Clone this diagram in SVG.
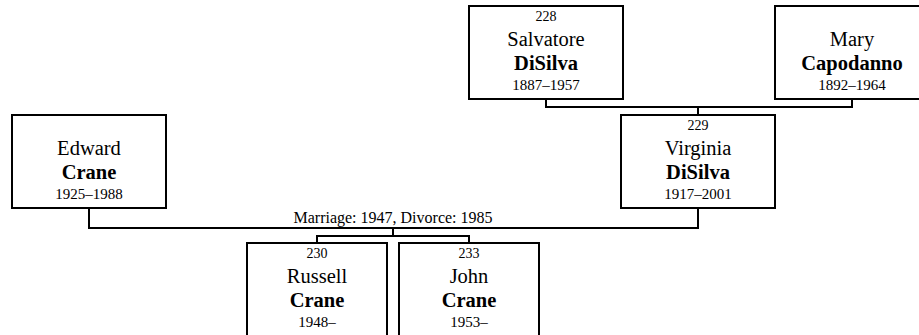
<svg xmlns="http://www.w3.org/2000/svg" width="919" height="335" viewBox="0 0 919 335">
<style>
.box{fill:#fff;stroke:#000;stroke-width:2}
.ln{fill:none;stroke:#000;stroke-width:2}
text{fill:#000;text-anchor:middle}
.id{font-size:14px}
.nm{font-size:20.5px}
.sn{font-size:20.5px;font-weight:bold}
.dt{font-size:15px}
.lb{font-size:16px}
</style>
<rect width="919" height="335" fill="#fff"/>
<g id="connectors" font-family="'Liberation Serif', 'Times New Roman', 'DejaVu Serif', serif">
<path class="ln" d="M546,99 V107 H852 V99 M698,107 V115"/>
<path class="ln" d="M89,208 V228 H698 V208"/>
<path class="ln" d="M393,228 V236 M317,243 V236 H469 V243"/>
<text class="lb" x="393" y="223">Marriage: 1947, Divorce: 1985</text>
</g>
<g id="n228" font-family="'Liberation Serif', 'Times New Roman', 'DejaVu Serif', serif">
<rect class="box" x="469" y="6" width="154" height="93"/>
<text class="id" x="546" y="21">228</text>
<text class="nm" x="546" y="46">Salvatore</text>
<text class="sn" x="546" y="69.5">DiSilva</text>
<text class="dt" x="546" y="90">1887–1957</text>
</g>
<g id="nMary" font-family="'Liberation Serif', 'Times New Roman', 'DejaVu Serif', serif">
<rect class="box" x="775" y="6" width="154" height="93"/>
<text class="nm" x="852" y="46">Mary</text>
<text class="sn" x="852" y="69.5">Capodanno</text>
<text class="dt" x="852" y="90">1892–1964</text>
</g>
<g id="n229" font-family="'Liberation Serif', 'Times New Roman', 'DejaVu Serif', serif">
<rect class="box" x="621" y="115" width="154" height="93"/>
<text class="id" x="698" y="130">229</text>
<text class="nm" x="698" y="155">Virginia</text>
<text class="sn" x="698" y="178.5">DiSilva</text>
<text class="dt" x="698" y="199">1917–2001</text>
</g>
<g id="nEdward" font-family="'Liberation Serif', 'Times New Roman', 'DejaVu Serif', serif">
<rect class="box" x="12" y="115" width="154" height="93"/>
<text class="nm" x="89" y="155">Edward</text>
<text class="sn" x="89" y="178.5">Crane</text>
<text class="dt" x="89" y="199">1925–1988</text>
</g>
<g id="n230" font-family="'Liberation Serif', 'Times New Roman', 'DejaVu Serif', serif">
<rect class="box" x="247" y="243" width="140" height="100"/>
<text class="id" x="317" y="258">230</text>
<text class="nm" x="317" y="283">Russell</text>
<text class="sn" x="317" y="306.5">Crane</text>
<text class="dt" x="317" y="327">1948–</text>
</g>
<g id="n233" font-family="'Liberation Serif', 'Times New Roman', 'DejaVu Serif', serif">
<rect class="box" x="399" y="243" width="140" height="100"/>
<text class="id" x="469" y="258">233</text>
<text class="nm" x="469" y="283">John</text>
<text class="sn" x="469" y="306.5">Crane</text>
<text class="dt" x="469" y="327">1953–</text>
</g>
</svg>
